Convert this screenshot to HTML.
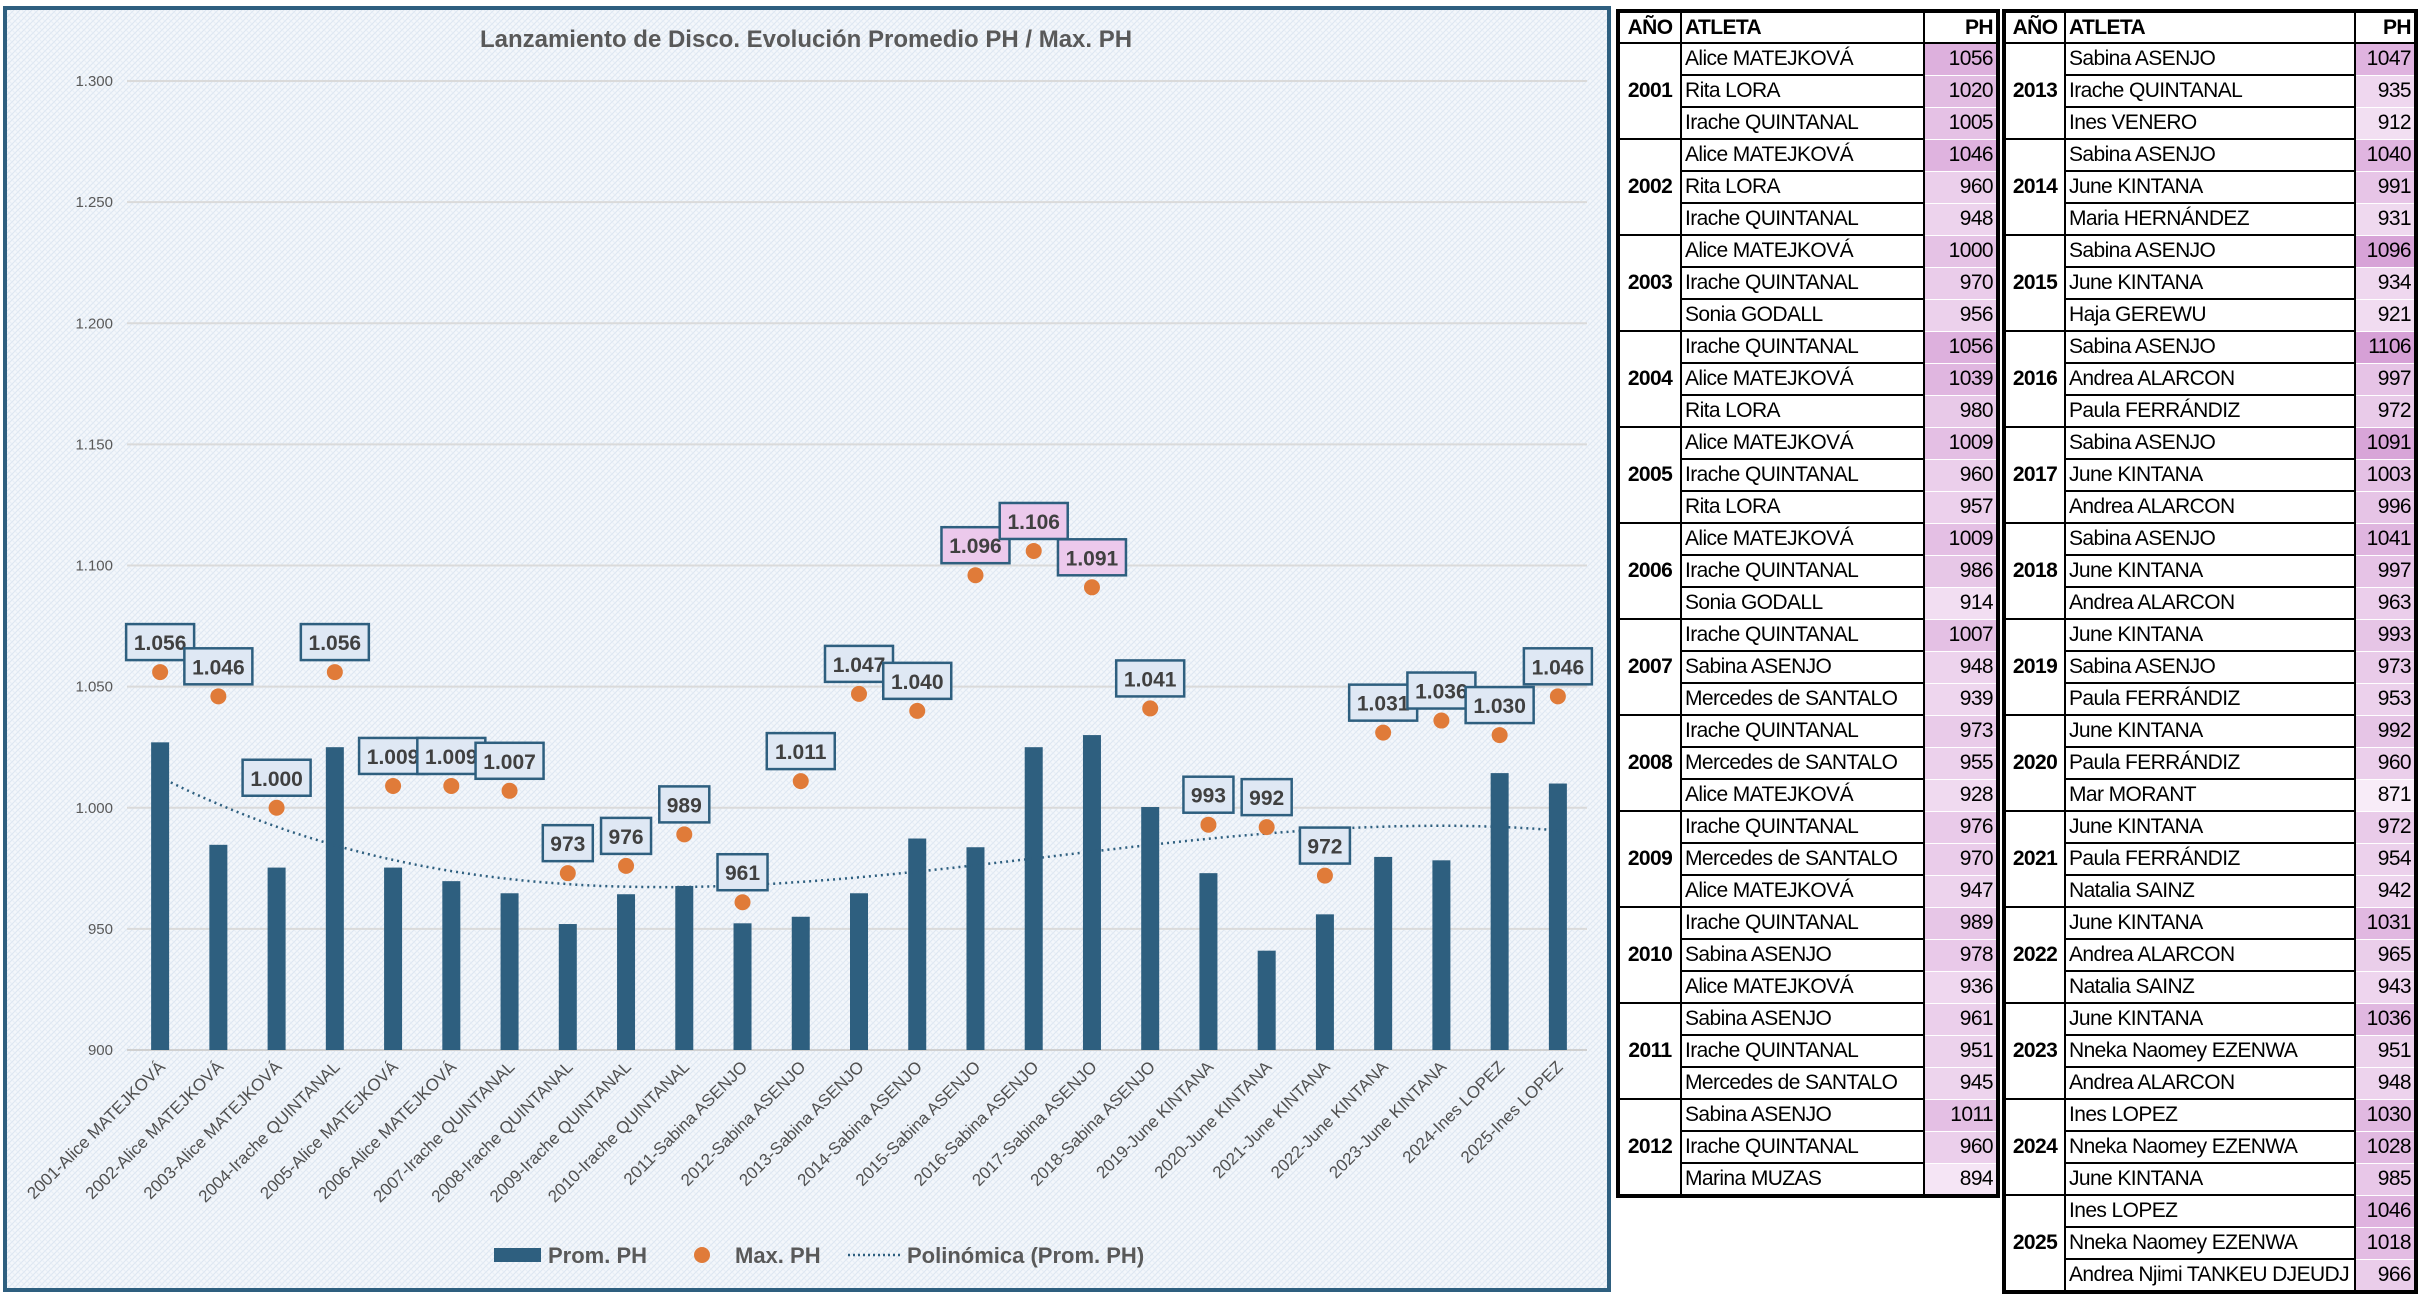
<!DOCTYPE html>
<html><head><meta charset="utf-8">
<style>
body{margin:0;width:2430px;height:1304px;background:#fff;position:relative;overflow:hidden;font-family:"Liberation Sans Narrow","Liberation Sans",sans-serif;}
#chart{position:absolute;left:0;top:0;}
table{position:absolute;border-collapse:collapse;border:4px solid #000;font-family:"Liberation Sans Narrow","Liberation Sans",sans-serif;font-size:21px;letter-spacing:-0.6px;color:#000;}
td,th{border:2px solid #000;padding:0 3px;height:30px;line-height:28px;white-space:nowrap;overflow:hidden;}
th{font-weight:bold;height:29px;}
td.yr{font-weight:bold;text-align:center;}
td.ph{text-align:right;border-top:1px solid #fff;border-bottom:1px solid #fff;}
th.ph{text-align:right}
th.at{text-align:left}
</style></head><body>
<svg id="chart" width="1614" height="1296">
<defs><pattern id="pt" width="6" height="6" patternUnits="userSpaceOnUse"><rect width="6" height="6" fill="#f4f7fb"/><path d="M0 6L6 0" stroke="#dce6f2" stroke-width="1"/><path d="M0 0L6 6" stroke="#e6edf6" stroke-width="1"/></pattern></defs>
<rect x="5" y="8" width="1604" height="1282" fill="url(#pt)" stroke="#2e5f7f" stroke-width="4"/>
<text x="806" y="47" text-anchor="middle" font-family="Liberation Sans Narrow, Liberation Sans, sans-serif" font-weight="bold" font-size="24" fill="#595959">Lanzamiento de Disco. Evolución Promedio PH / Max. PH</text>
<g id="grid"></g><g id="bars"></g><g id="trend"></g><g id="dots"></g><g id="labels"></g><g id="xl"></g>
<g font-family="Liberation Sans Narrow, Liberation Sans, sans-serif" font-weight="bold" font-size="22" fill="#595959">
<rect x="494" y="1248" width="47" height="14" fill="#2e5f7f"/>
<text x="548" y="1263">Prom. PH</text>
<circle cx="702" cy="1255" r="8" fill="#e07b39"/>
<text x="735" y="1263">Max. PH</text>
<line x1="848" y1="1255" x2="901" y2="1255" stroke="#2e5f7f" stroke-width="2.5" stroke-dasharray="2 3"/>
<text x="907" y="1263">Polinómica (Prom. PH)</text>
</g>
</svg>
<script>
const categories=["2001-Alice MATEJKOVÁ","2002-Alice MATEJKOVÁ","2003-Alice MATEJKOVÁ","2004-Irache QUINTANAL","2005-Alice MATEJKOVÁ","2006-Alice MATEJKOVÁ","2007-Irache QUINTANAL","2008-Irache QUINTANAL","2009-Irache QUINTANAL","2010-Irache QUINTANAL","2011-Sabina ASENJO","2012-Sabina ASENJO","2013-Sabina ASENJO","2014-Sabina ASENJO","2015-Sabina ASENJO","2016-Sabina ASENJO","2017-Sabina ASENJO","2018-Sabina ASENJO","2019-June KINTANA","2020-June KINTANA","2021-June KINTANA","2022-June KINTANA","2023-June KINTANA","2024-Ines LOPEZ","2025-Ines LOPEZ"];
const promPH=[1027,984.7,975.3,1025,975.3,969.7,964.7,952,964.3,967.7,952.3,955,964.7,987.3,983.7,1025,1030,1000.3,973,941,956,979.7,978.3,1014.3,1010];
const maxPH=[1056,1046,1000,1056,1009,1009,1007,973,976,989,961,1011,1047,1040,1096,1106,1091,1041,993,992,972,1031,1036,1030,1046];
const yTicks=[900,950,1000,1050,1100,1150,1200,1250,1300];
const yTickLabels=["900","950","1.000","1.050","1.100","1.150","1.200","1.250","1.300"];
const pinkLabels=[1096,1106,1091];

const NS="http://www.w3.org/2000/svg";
const X0=131,X1=1587,Y0=1050,Y1=81,YMIN=900,YMAX=1300;
const band=(X1-X0)/categories.length;
const xc=i=>X0+band*(i+0.5);
const y=v=>Y0-(v-YMIN)/(YMAX-YMIN)*(Y0-Y1);
function mk(t,a,p){const e=document.createElementNS(NS,t);for(const k in a)e.setAttribute(k,a[k]);p.appendChild(e);return e;}
const fmt=v=>{const s=String(Math.round(v));return s.length>3?s.slice(0,-3)+"."+s.slice(-3):s;};
const F="Liberation Sans Narrow, Liberation Sans, sans-serif";

const g=document.getElementById('grid');
yTicks.forEach((t,i)=>{
 const l=mk('line',{x1:X0-4,x2:X1,y1:y(t),y2:y(t),stroke:t===900?'#d0d0d0':'#dadada','stroke-width':2},g);
 
 
 const tx=mk('text',{x:113,y:y(t)+5,'text-anchor':'end','font-size':15,fill:'#595959','font-family':F},g);
 tx.textContent=yTickLabels[i];
 
 
});
const gb=document.getElementById('bars');
promPH.forEach((v,i)=>{
 const r=mk('rect',{x:xc(i)-9,y:y(v),width:18,height:Y0-y(v),fill:'#2e5f7f'},gb);
 
 
});
(function(){
 const n=promPH.length,deg=3;const xs=promPH.map((_,i)=>(i-12)/12);
 const A=[],b=[];
 for(let r=0;r<=deg;r++){A.push([]);let s=0;for(let k=0;k<n;k++)s+=Math.pow(xs[k],r)*promPH[k];b.push(s);
  for(let c=0;c<=deg;c++){let t=0;for(let k=0;k<n;k++)t+=Math.pow(xs[k],r+c);A[r].push(t);}}
 for(let i=0;i<=deg;i++){let p=i;for(let j=i+1;j<=deg;j++)if(Math.abs(A[j][i])>Math.abs(A[p][i]))p=j;
  [A[i],A[p]]=[A[p],A[i]];[b[i],b[p]]=[b[p],b[i]];
  for(let j=i+1;j<=deg;j++){const f=A[j][i]/A[i][i];for(let c=i;c<=deg;c++)A[j][c]-=f*A[i][c];b[j]-=f*b[i];}}
 const co=new Array(deg+1);for(let i=deg;i>=0;i--){let s=b[i];for(let c=i+1;c<=deg;c++)s-=A[i][c]*co[c];co[i]=s/A[i][i];}
 let d="";for(let k=0;k<=120;k++){const t=k/120*(n-1);const xx=(t-12)/12;let v=0;for(let c=0;c<=deg;c++)v+=co[c]*Math.pow(xx,c);
  d+=(k?"L":"M")+(X0+band*(t+0.5)).toFixed(1)+" "+y(v).toFixed(1);}
 const p=mk('path',{d:d,fill:'none',stroke:'#2e5f7f','stroke-width':2.5,'stroke-dasharray':'2 4'},document.getElementById('trend'));
 
 
})();
const gd=document.getElementById('dots'),gl=document.getElementById('labels');
maxPH.forEach((v,i)=>{
 const c=mk('circle',{cx:xc(i),cy:y(v),r:8,fill:'#e07b39'},gd);
 
 
 const w=String(v).length>3?68:50,h=36,bx=xc(i)-w/2,by=y(v)-12-h;
 const pink=pinkLabels.includes(v);
 const grp=mk('g',{},gl);
 
 
 mk('rect',{x:bx,y:by,width:w,height:h,fill:pink?'#ecc9ec':'#dfe8f4',stroke:'#2e5f7f','stroke-width':2.5},grp);
 const t=mk('text',{x:xc(i),y:by+26,'text-anchor':'middle','font-size':21,'font-weight':'bold',fill:'#404040','font-family':'Liberation Sans, sans-serif'},grp);
 t.textContent=fmt(v);
});
const gx=document.getElementById('xl');
categories.forEach((c,i)=>{
 const t=mk('text',{x:xc(i)+6,y:Y0+18,'text-anchor':'end','font-size':17,fill:'#505050','font-family':F,transform:`rotate(-45 ${xc(i)+6} ${Y0+18})`},gx);
 t.textContent=c;
 
 
});
</script>

<script>
const leftData=[
[2001,[["Alice MATEJKOVÁ",1056],["Rita LORA",1020],["Irache QUINTANAL",1005]]],
[2002,[["Alice MATEJKOVÁ",1046],["Rita LORA",960],["Irache QUINTANAL",948]]],
[2003,[["Alice MATEJKOVÁ",1000],["Irache QUINTANAL",970],["Sonia GODALL",956]]],
[2004,[["Irache QUINTANAL",1056],["Alice MATEJKOVÁ",1039],["Rita LORA",980]]],
[2005,[["Alice MATEJKOVÁ",1009],["Irache QUINTANAL",960],["Rita LORA",957]]],
[2006,[["Alice MATEJKOVÁ",1009],["Irache QUINTANAL",986],["Sonia GODALL",914]]],
[2007,[["Irache QUINTANAL",1007],["Sabina ASENJO",948],["Mercedes de SANTALO",939]]],
[2008,[["Irache QUINTANAL",973],["Mercedes de SANTALO",955],["Alice MATEJKOVÁ",928]]],
[2009,[["Irache QUINTANAL",976],["Mercedes de SANTALO",970],["Alice MATEJKOVÁ",947]]],
[2010,[["Irache QUINTANAL",989],["Sabina ASENJO",978],["Alice MATEJKOVÁ",936]]],
[2011,[["Sabina ASENJO",961],["Irache QUINTANAL",951],["Mercedes de SANTALO",945]]],
[2012,[["Sabina ASENJO",1011],["Irache QUINTANAL",960],["Marina MUZAS",894]]]];
const rightData=[
[2013,[["Sabina ASENJO",1047],["Irache QUINTANAL",935],["Ines VENERO",912]]],
[2014,[["Sabina ASENJO",1040],["June KINTANA",991],["Maria HERNÁNDEZ",931]]],
[2015,[["Sabina ASENJO",1096],["June KINTANA",934],["Haja GEREWU",921]]],
[2016,[["Sabina ASENJO",1106],["Andrea ALARCON",997],["Paula FERRÁNDIZ",972]]],
[2017,[["Sabina ASENJO",1091],["June KINTANA",1003],["Andrea ALARCON",996]]],
[2018,[["Sabina ASENJO",1041],["June KINTANA",997],["Andrea ALARCON",963]]],
[2019,[["June KINTANA",993],["Sabina ASENJO",973],["Paula FERRÁNDIZ",953]]],
[2020,[["June KINTANA",992],["Paula FERRÁNDIZ",960],["Mar MORANT",871]]],
[2021,[["June KINTANA",972],["Paula FERRÁNDIZ",954],["Natalia SAINZ",942]]],
[2022,[["June KINTANA",1031],["Andrea ALARCON",965],["Natalia SAINZ",943]]],
[2023,[["June KINTANA",1036],["Nneka Naomey EZENWA",951],["Andrea ALARCON",948]]],
[2024,[["Ines LOPEZ",1030],["Nneka Naomey EZENWA",1028],["June KINTANA",985]]],
[2025,[["Ines LOPEZ",1046],["Nneka Naomey EZENWA",1018],["Andrea Njimi TANKEU DJEUDJ",966]]]];
function shade(v){const t=Math.max(0,Math.min(1,(v-871)/(1106-871)));
 const a=[248,236,248],b=[214,160,214];return `rgb(${a.map((c,i)=>Math.round(c+(b[i]-c)*t)).join(',')})`;}
function build(data,left,widths,name){
 const tb=document.createElement('table');
 
 
 tb.style.left=left+'px';tb.style.top='9px';
 let h=`<colgroup>${widths.map(w=>`<col style="width:${w}px">`).join('')}</colgroup><tr><th>AÑO</th><th class="at">ATLETA</th><th class="ph">PH</th></tr>`;
 data.forEach(([yr,rows])=>{rows.forEach((r,k)=>{
  h+=`<tr>`+(k===0?`<td class="yr" rowspan="3">${yr}</td>`:'')+
  `<td>${r[0]}</td><td class="ph" style="background:${shade(r[1])}">${r[1]}</td></tr>`;});});
 tb.innerHTML=h;tb.style.width=widths.reduce((a,b)=>a+b,0)+'px';tb.style.tableLayout='fixed';
 document.body.appendChild(tb);
}
build(leftData,1616,[63,243,74],'ranking-table-2001-2012');
build(rightData,2002,[61,290,61],'ranking-table-2013-2025');
</script>
</body></html>
